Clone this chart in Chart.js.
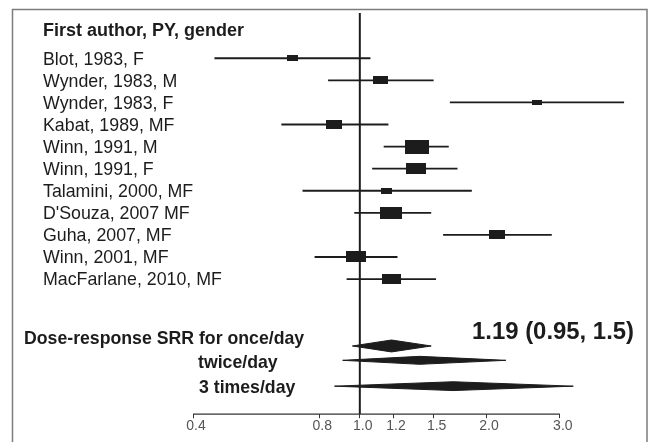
<!DOCTYPE html>
<html>
<head>
<meta charset="utf-8">
<script src="https://cdn.jsdelivr.net/npm/chart.js@4.4.0/dist/chart.umd.min.js"></script>
<style>
html,body{margin:0;padding:0;background:#fff;}
canvas{display:block;}
</style>
</head>
<body>
<canvas id="c" width="649" height="442"></canvas>
<script>
// ---------------- DATA ----------------
const headerLabel = "First author, PY, gender";
const studies = [
  "Blot, 1983, F",
  "Wynder, 1983, M",
  "Wynder, 1983, F",
  "Kabat, 1989, MF",
  "Winn, 1991, M",
  "Winn, 1991, F",
  "Talamini, 2000, MF",
  "D'Souza, 2007 MF",
  "Guha, 2007, MF",
  "Winn, 2001, MF",
  "MacFarlane, 2010, MF"
];
const estimates = [0.69, 1.12, 2.65, 0.87, 1.37, 1.36, 1.16, 1.19, 2.12, 0.98, 1.19];
const lower     = [0.45, 0.84, 1.64, 0.65, 1.14, 1.07, 0.73, 0.97, 1.58, 0.78, 0.93];
const upper     = [1.06, 1.50, 4.27, 1.17, 1.63, 1.71, 1.85, 1.48, 2.87, 1.23, 1.52];
const weights   = [3.6, 6.8, 2.9, 8.1, 18.0, 12.1, 3.6, 14.2, 7.6, 12.6, 10.5];

const summaryLabels = ["Dose-response SRR for once/day", "twice/day", "3 times/day"];
const summaryEst    = [1.19, 1.39, 1.67];
const summaryLower  = [0.96, 0.91, 0.87];
const summaryUpper  = [1.48, 2.23, 3.23];
const summaryNote   = "1.19 (0.95, 1.5)";

const xTicks = [0.4, 0.8, 1.0, 1.2, 1.5, 2.0, 3.0];

// ---------------- LAYOUT / STYLE ----------------
const INK = "#1c1c1c";
const FONT = '"Liberation Sans", Arial, Helvetica, sans-serif';
const Y_MIN = -1.05, Y_MAX = 17.12;
const X_MIN = 0.4, X_MAX = 4.66;
const HEADER_ROW = -0.25;
const summaryRows = [14.03, 14.68, 15.85];
const diamondHalf = [0.27, 0.18, 0.2];
const summaryLabelX = [24, 198, 199];
const summaryLabelDy = [-7, 2.7, 2];

// box images (sized by study weight)
const boxImgs = weights.map(w => {
  const h = Math.round(3.2 * Math.sqrt(w));
  const wd = Math.round(1.8 * 3.2 * Math.sqrt(w));
  const cv = document.createElement("canvas");
  cv.width = wd; cv.height = h;
  const g = cv.getContext("2d");
  g.fillStyle = INK; g.fillRect(0, 0, wd, h);
  return cv;
});

const datasets = [];
// reference line at 1.0
datasets.push({
  data: [{x: 1, y: Y_MIN}, {x: 1, y: Y_MAX}],
  borderColor: INK, borderWidth: 2, pointRadius: 0, fill: false
});
// confidence intervals
studies.forEach((s, i) => {
  datasets.push({
    data: [{x: lower[i], y: i + 1}, {x: upper[i], y: i + 1}],
    borderColor: INK, borderWidth: 1.8, pointRadius: 0, fill: false
  });
});
// boxes
datasets.push({
  data: estimates.map((e, i) => ({x: e, y: i + 1})),
  showLine: false,
  pointStyle: ctx => boxImgs[ctx.dataIndex],
  pointRadius: 5,
  backgroundColor: INK, borderColor: INK
});
// diamonds
summaryEst.forEach((c, k) => {
  const r = summaryRows[k], h = diamondHalf[k];
  datasets.push({
    data: [{x: summaryLower[k], y: r}, {x: c, y: r - h}, {x: summaryUpper[k], y: r}],
    borderColor: INK, borderWidth: 1, pointRadius: 0, backgroundColor: INK, fill: "+1"
  });
  datasets.push({
    data: [{x: summaryLower[k], y: r}, {x: c, y: r + h}, {x: summaryUpper[k], y: r}],
    borderColor: INK, borderWidth: 1, pointRadius: 0, fill: false
  });
});

const decor = {
  id: "decor",
  beforeDraw(chart) {
    const ctx = chart.ctx;
    ctx.save();
    ctx.fillStyle = "#fff";
    ctx.fillRect(0, 0, chart.width, chart.height);
    ctx.strokeStyle = "#7c7c7c";
    ctx.lineWidth = 1.5;
    ctx.strokeRect(12.5, 9.5, 634.5, 470);
    ctx.restore();
  },
  afterDraw(chart) {
    const ctx = chart.ctx;
    const xs = chart.scales.x, ys = chart.scales.y;
    const ca = chart.chartArea;
    ctx.save();
    // axis line from first to last tick
    ctx.strokeStyle = "#333";
    ctx.lineWidth = 1.3;
    ctx.beginPath();
    ctx.moveTo(xs.getPixelForValue(xTicks[0]), ca.bottom);
    ctx.lineTo(xs.getPixelForValue(xTicks[xTicks.length - 1]), ca.bottom);
    ctx.stroke();

    ctx.fillStyle = INK;
    ctx.textAlign = "left";
    ctx.textBaseline = "middle";
    ctx.font = "bold 18px " + FONT;
    ctx.fillText(headerLabel, 43, ys.getPixelForValue(HEADER_ROW));
    ctx.font = "17.8px " + FONT;
    studies.forEach((s, i) => {
      ctx.fillText(s, 43, ys.getPixelForValue(i + 1) + 1.5);
    });
    ctx.font = "bold 17.7px " + FONT;
    summaryLabels.forEach((s, k) => {
      ctx.fillText(s, summaryLabelX[k], ys.getPixelForValue(summaryRows[k]) + summaryLabelDy[k]);
    });
    ctx.font = "bold 23.9px " + FONT;
    ctx.fillText(summaryNote, 472, ys.getPixelForValue(summaryRows[0]) - 14);
    ctx.restore();
  }
};

new Chart(document.getElementById("c"), {
  type: "line",
  data: {datasets},
  options: {
    responsive: false,
    animation: false,
    events: [],
    layout: {padding: {left: 193, right: 9, top: 13, bottom: 7}},
    plugins: {legend: {display: false}, tooltip: {enabled: false}},
    scales: {
      x: {
        type: "logarithmic",
        min: X_MIN, max: X_MAX,
        afterBuildTicks: scale => { scale.ticks = xTicks.map(v => ({value: v})); },
        grid: {display: true, drawOnChartArea: false, drawTicks: true, tickLength: 4, color: "#333", lineWidth: 1},
        border: {display: false},
        ticks: {
          autoSkip: false, maxRotation: 0, padding: 0, labelOffset: 3,
          color: "#555",
          font: {family: FONT, size: 14},
          callback: v => Number(v).toFixed(1)
        }
      },
      y: {
        type: "linear", reverse: true, min: Y_MIN, max: Y_MAX, display: false
      }
    }
  },
  plugins: [decor]
});
</script>
</body>
</html>
